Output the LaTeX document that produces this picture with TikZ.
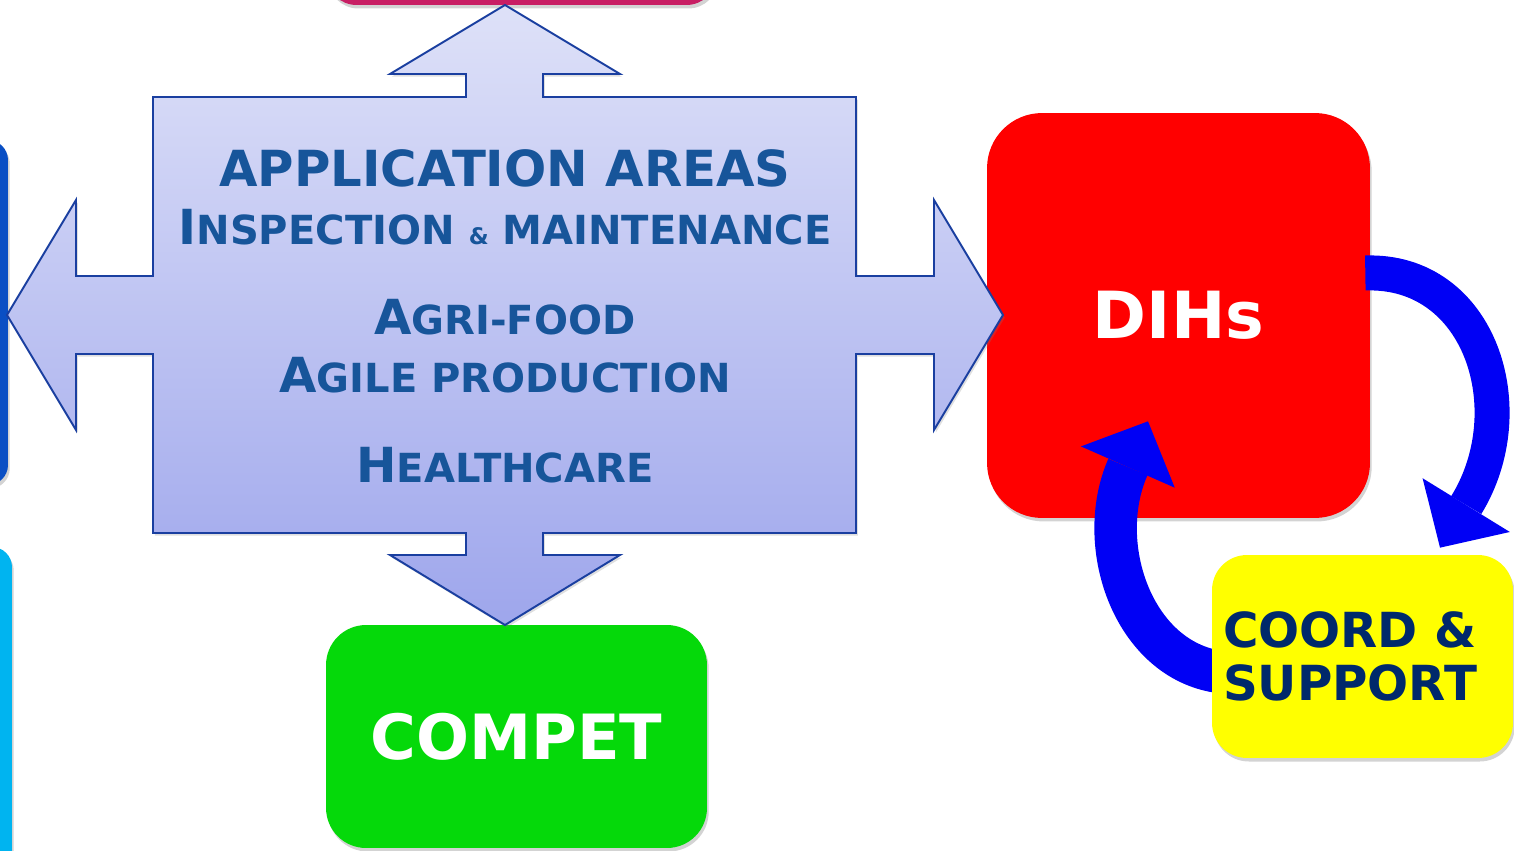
\documentclass[tikz,border=0pt]{standalone}
\usepackage{fontspec}
\setmainfont{DejaVu Sans}
\usetikzlibrary{
    arrows.meta,
    calc,
    positioning,
    shadows
}
\pgfdeclarelayer{front}
\pgfsetlayers{main,front}
\definecolor{areablue}{HTML}{17559A}
\definecolor{edgeblue}{HTML}{1A3FA0}
\definecolor{shadetop}{HTML}{DEE1F8}
\definecolor{shadebot}{HTML}{9EA6EC}
\definecolor{dihred}{HTML}{FF0000}
\definecolor{competgreen}{HTML}{05D90A}
\definecolor{coordyellow}{HTML}{FFFF00}
\definecolor{navy}{HTML}{00296B}
\definecolor{swirlblue}{HTML}{0000F5}
\definecolor{topmagenta}{HTML}{C81E64}
\definecolor{sideblue}{HTML}{0A4FC4}
\definecolor{sidecyan}{HTML}{00B4F0}
\newcommand{\capsc}[2]{{\fontsize{27.5pt}{30pt}\selectfont #1}{\fontsize{22.8pt}{30pt}\selectfont #2}}
\tikzset{
    every picture/.style = {
        x = 0.02cm,
        y = -0.02cm
    },
    box/.style = {
        rounded corners = #1,
        drop shadow = {opacity = 0.35, shadow xshift = 1pt, shadow yshift = -2pt},
        inner sep = 0pt
    },
    area/.style = {
        anchor = base,
        text = areablue,
        font = {\bfseries\fontsize{22.8pt}{30pt}\selectfont}
    },
    swirl/.style = {
        swirlblue,
        line width = #1,
        -{Triangle[length = 1cm, width = 2.05cm, line width = 0pt]}
    }
}

\begin{document}
\begin{tikzpicture}
    \useasboundingbox (0,0) rectangle (1514,851);
    \clip (0,0) rectangle (1514,851);

    % boxes cut by the border
    \node[box = 0.6cm, fill = topmagenta, minimum width = 7.8cm, minimum height = 3cm] (top) at (521.5,-70) {};
    \node[box = 0.4cm, fill = sideblue, minimum width = 2cm, minimum height = 6.9cm] (left) at (-42,312.5) {};
    \node[box = 0.4cm, fill = sidecyan, minimum width = 2cm, minimum height = 12cm] (lower) at (-38,847) {};

    \node[box = 1.1cm, fill = dihred, text = white, minimum width = 7.66cm, minimum height = 8.1cm,
        font = {\bfseries\fontsize{37pt}{40pt}\selectfont}] (dih) at (1178.5,315.5) {DIHs};
    \node[box = 0.8cm, fill = competgreen, text = white, minimum width = 7.62cm, minimum height = 4.46cm,
        font = {\bfseries\fontsize{35.5pt}{40pt}\selectfont}] (compet) at (516.5,736.5) {COMPET};
    \begin{pgfonlayer}{front}
        \node[box = 0.7cm, fill = coordyellow, text = navy, align = left, text width = 5.58cm, inner xsep = 0.22cm,
            minimum height = 4.06cm, font = {\bfseries\fontsize{27.5pt}{30pt}\selectfont}] (coord) at (1362.5,656.5) {COORD \&\\SUPPORT};
    \end{pgfonlayer}

    % four-way arrow
    \path[draw = edgeblue, line width = 1.1pt, top color = shadetop, bottom color = shadebot,
        drop shadow = {opacity = 0.25, shadow xshift = 1pt, shadow yshift = -1.5pt}]
        (505,5) -- (620,74) -- (543,74) -- (543,97) -- (856,97) -- (856,276) -- (934,276) -- (934,200)
        -- (1003,315) -- (934,430) -- (934,354) -- (856,354) -- (856,533) -- (543,533) -- (543,555)
        -- (620,555) -- (505,625) -- (390,555) -- (466,555) -- (466,533) -- (153,533) -- (153,354)
        -- (76,354) -- (76,430) -- (7,315) -- (76,200) -- (76,276) -- (153,276) -- (153,97)
        -- (466,97) -- (466,74) -- (390,74) -- cycle;

    \node[area, font = {\bfseries\fontsize{28.3pt}{30pt}\selectfont}] (title) at (505,187) {APPLICATION AREAS};
    \node[area] (inspect) at (505,245) {\capsc{I}{NSPECTION} {\fontsize{13pt}{15pt}\selectfont\&} \capsc{}{MAINTENANCE}};
    \node[area] (agri) at (505,334) {\capsc{A}{GRI-FOOD}};
    \node[area] (agile) at (505,392) {\capsc{A}{GILE PRODUCTION}};
    \node[area] (health) at (505,482) {\capsc{H}{EALTHCARE}};

    % loop between DIHs and coordination
    \draw[swirl = 0.7cm] ($(dih.east)+(-5,-42.5)$) .. controls +(115,-4) and +(85,-138) .. ($(coord.north)+(77.5,-7)$);
    \draw[swirl = 0.85cm] ($(coord.west)+(13,16)$) .. controls +(-90,-8) and +(-55,125) .. ($(dih.south)+(-30.5,-97)$);
\end{tikzpicture}
\end{document}
